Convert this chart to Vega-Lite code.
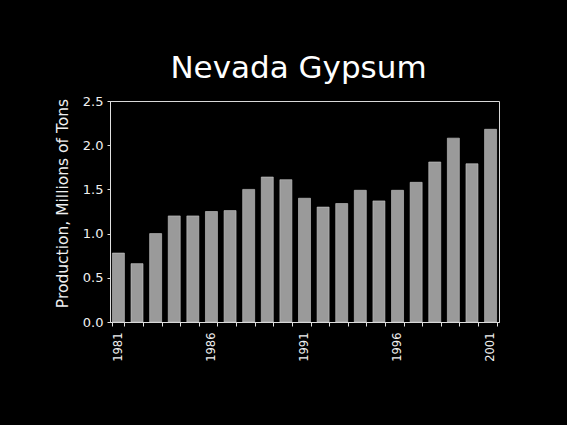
{
  "$schema": "https://vega.github.io/schema/vega-lite/v6.json",
  "width": 389,
  "height": 221,
  "autosize": {"type": "none"},
  "padding": {"left": 110, "top": 101, "right": 68, "bottom": 103},
  "background": "#000000",
  "title": {
    "text": "Nevada  Gypsum",
    "font": "DejaVu Sans",
    "fontSize": 31,
    "fontWeight": "normal",
    "color": "#ffffff",
    "anchor": "middle",
    "baseline": "alphabetic",
    "offset": 22,
    "dy": 36,
    "dx": -6
  },
  "config": {
    "view": {"stroke": "#d8d8d8", "strokeWidth": 1},
    "axis": {"grid": false, "domainColor": "#e0e0e0", "tickColor": "#e0e0e0", "labelColor": "#f0f0f0", "titleColor": "#f0f0f0", "labelFont": "DejaVu Sans", "titleFont": "DejaVu Sans"}
  },
  "data": {
    "values": [
      {"year": 1981, "production": 0.78},
      {"year": 1982, "production": 0.66},
      {"year": 1983, "production": 1.00},
      {"year": 1984, "production": 1.20},
      {"year": 1985, "production": 1.20},
      {"year": 1986, "production": 1.25},
      {"year": 1987, "production": 1.26},
      {"year": 1988, "production": 1.50},
      {"year": 1989, "production": 1.64},
      {"year": 1990, "production": 1.61},
      {"year": 1991, "production": 1.40},
      {"year": 1992, "production": 1.30},
      {"year": 1993, "production": 1.34},
      {"year": 1994, "production": 1.49},
      {"year": 1995, "production": 1.37},
      {"year": 1996, "production": 1.49},
      {"year": 1997, "production": 1.58},
      {"year": 1998, "production": 1.81},
      {"year": 1999, "production": 2.08},
      {"year": 2000, "production": 1.79},
      {"year": 2001, "production": 2.18}
    ]
  },
  "mark": {"type": "bar", "color": "#9a9a9a", "stroke": "#c8c8c8", "strokeWidth": 0.6},
  "encoding": {
    "x": {
      "field": "year",
      "type": "ordinal",
      "scale": {"paddingInner": 0.355, "paddingOuter": 0.13},
      "axis": {
        "title": null,
        "labelAngle": -90,
        "labelAlign": "right",
        "labelBaseline": "middle",
        "labelFontSize": 11.5,
        "labelPadding": 6,
        "tickSize": 4,
        "tickBand": "extent",
        "labelExpr": "(datum.value - 1981) % 5 == 0 ? datum.value : ''"
      }
    },
    "y": {
      "field": "production",
      "type": "quantitative",
      "scale": {"domain": [0, 2.5], "nice": false},
      "axis": {
        "title": "Production, Millions of Tons",
        "values": [0, 0.5, 1, 1.5, 2, 2.5],
        "format": ".1f",
        "labelFontSize": 13,
        "labelPadding": 4,
        "tickSize": 3,
        "titleFontSize": 15.5,
        "titleFontWeight": "normal",
        "titleAngle": -90,
        "titleAlign": "center",
        "titleBaseline": "middle",
        "titleX": -48,
        "titleY": 102
      }
    }
  }
}
